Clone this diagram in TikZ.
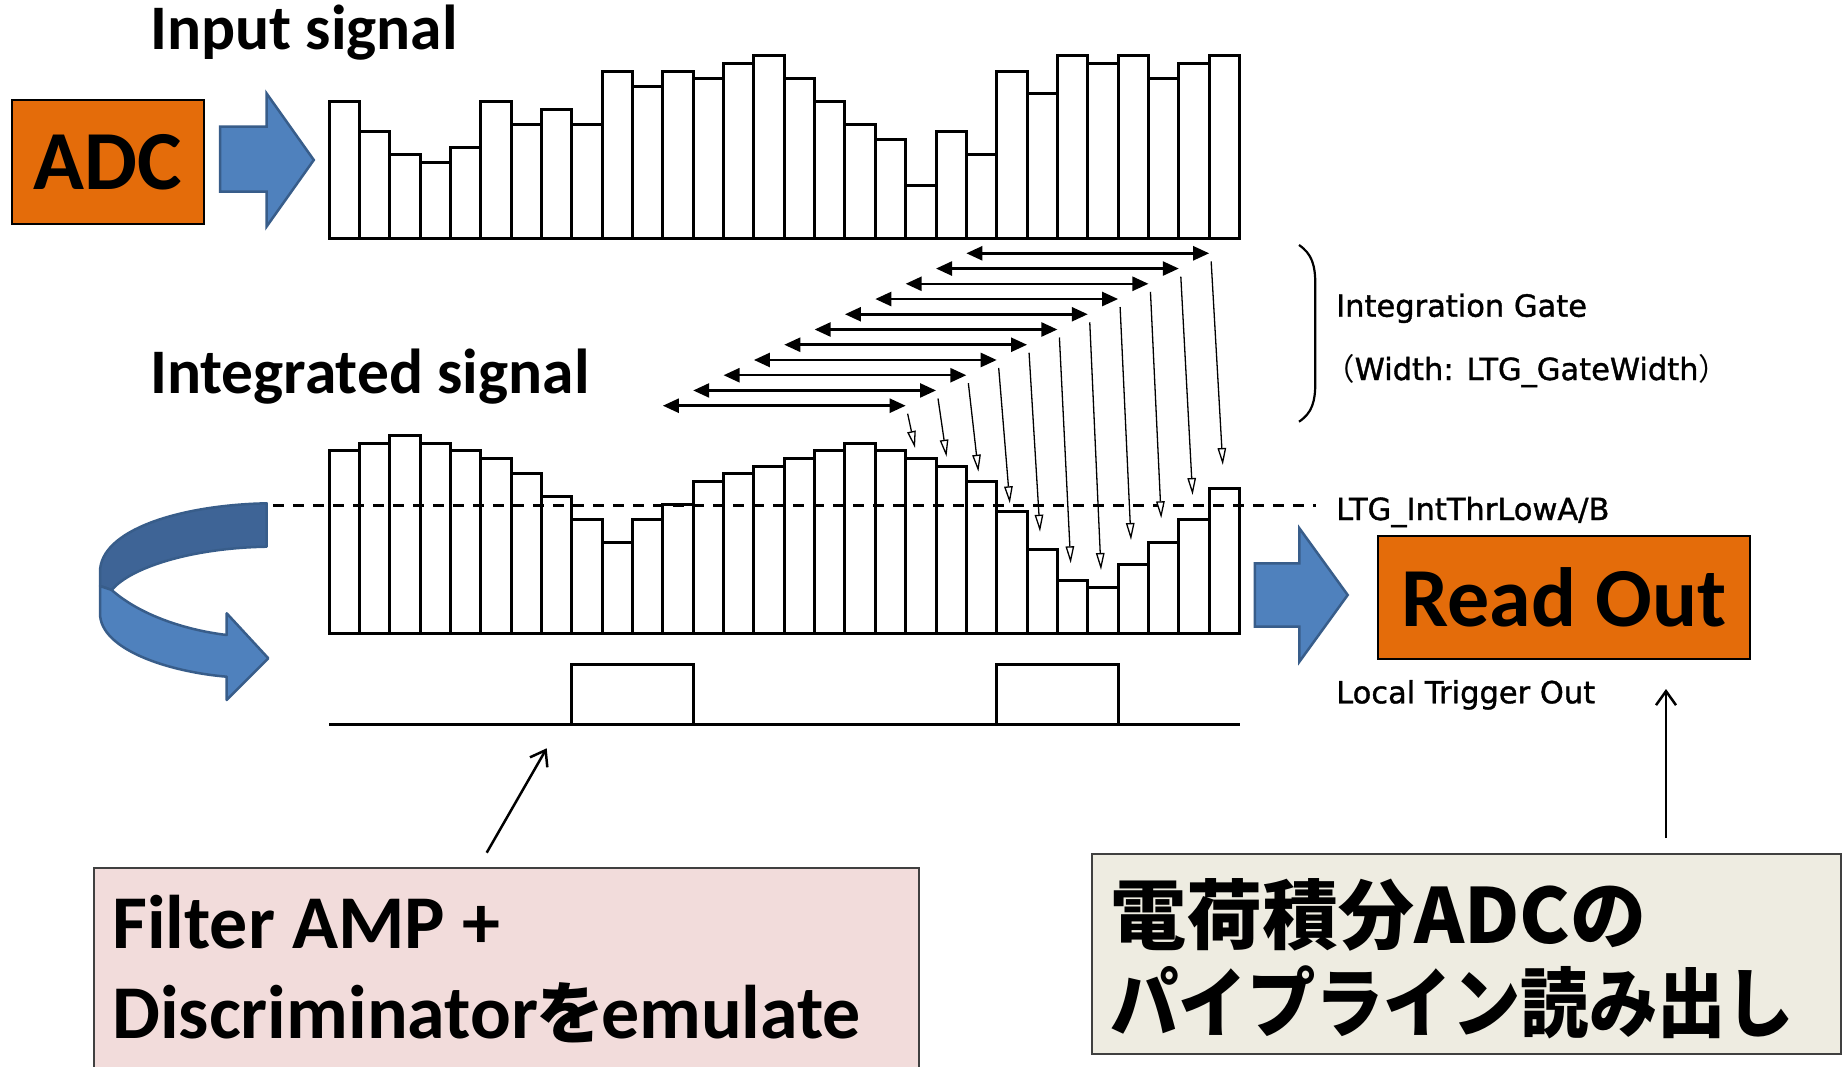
\documentclass[tikz,border=0pt]{standalone}
\usepackage{fontspec}
\setmainfont{Carlito}
\newfontfamily\cjk{Noto Sans CJK JP}
\newfontfamily\cjkn{Noto Sans CJK JP}[FakeStretch=0.9]
\newfontfamily\lab{DejaVu Sans}[FakeBold=1.2]
\usetikzlibrary{arrows.meta}
\definecolor{orng}{HTML}{E46C0A}
\definecolor{bluef}{HTML}{4F81BD}
\definecolor{blued}{HTML}{385D8A}
\definecolor{bluebk}{HTML}{3E6496}
\definecolor{pinkf}{HTML}{F2DCDB}
\definecolor{beigef}{HTML}{EEECE1}
\begin{document}
\begin{tikzpicture}[x=1pt,y=-1pt,
  barbox/.style={draw=black,fill=white,line width=3pt},
  bigtitle/.style={inner sep=0pt,font=\fontsize{63.5}{75}\selectfont\bfseries},
  orbox/.style={draw=black,fill=orng,line width=2pt,inner sep=0pt},
  blockarrow/.style={fill=bluef,draw=blued,line width=2.5pt,line join=miter},
  gatearrow/.style={line width=2.5pt,{Triangle[length=16pt,width=14pt]}-{Triangle[length=16pt,width=14pt]}},
  droparrow/.style={line width=1.3pt,-{Triangle[length=17pt,width=8.5pt,fill=white]}},
  lbl/.style={inner sep=0pt,font=\lab\fontsize{30.5}{36}\selectfont},
  ptr/.style={line width=2.5pt,-{Straight Barb[length=14pt,width=20pt]}},
  cjktext/.style={inner sep=0pt,font=\cjkn\bfseries\fontsize{76}{90}\selectfont},
  cjktextw/.style={inner sep=0pt,font=\cjk\bfseries\fontsize{76}{90}\selectfont},
  boxtext/.style={inner sep=0pt,font=\fontsize{76}{90}\selectfont\bfseries}
]
\useasboundingbox (0,0) rectangle (1846,1067);
\fill[white] (0,0) rectangle (1846,1067);

% titles
\node[bigtitle,anchor=base west] (intitle) at (150,49.3) {Input signal};
\node[bigtitle,anchor=base west] (integtitle) at (150,393.3) {Integrated signal};

% ADC box and Read Out box
\node[orbox,anchor=north west,minimum width=192pt,minimum height=123.4pt] (adc) at (11,99.3) {\fontsize{84}{100}\selectfont\bfseries ADC};
\node[orbox,anchor=north west,minimum width=372.4pt,minimum height=123.3pt] (ro) at (1376.6,535) {\fontsize{84}{100}\selectfont\bfseries Read Out};

% block arrows
\filldraw[blockarrow] (220,126.7) -- (266.5,126.7) -- (266.5,93.3) -- (313.8,160) -- (266.5,226.7) -- (266.5,191.7) -- (220,191.7) -- cycle;
\filldraw[blockarrow] (1254.8,563.3) -- (1299.4,563.3) -- (1299.4,528.3) -- (1347.7,595) -- (1299.4,661.7) -- (1299.4,626.7) -- (1254.8,626.7) -- cycle;

% top histogram
\foreach \L [count=\i] in {18,14,11,10,12,18,15,17,15,22,20,22,21,23,24,21,18,15,13,7,14,11,22,19,24,23,24,21,23,24} {
  \draw[barbox] ({329+(\i-1)*30.35},238.3) rectangle ({329+\i*30.35},{238.3-\L*7.596});
}
% bottom histogram
\foreach \L [count=\i] in {24,25,26,25,24,23,21,18,15,12,15,17,20,21,22,23,24,25,24,23,22,20,16,11,7,6,9,12,15,19} {
  \draw[barbox] ({329+(\i-1)*30.35},633.3) rectangle ({329+\i*30.35},{633.3-\L*7.6});
}

% threshold
\draw[line width=3pt,dash pattern=on 11pt off 9pt] (273,505.5) -- (1316,505.5);

% trigger output
\draw[line width=3pt] (329,724) -- (1239.5,724);
\draw[line width=3pt,line join=miter] (571.8,724) -- (571.8,664) -- (693.2,664) -- (693.2,724);
\draw[line width=3pt,line join=miter] (996.7,724) -- (996.7,664) -- (1118.1,664) -- (1118.1,724);

% integration gates and drop arrows
\foreach \k/\tx/\ty in {1/1222.8/465,2/1192.6/495,3/1161.2/518.3,4/1131/540,5/1101/570,6/1070.7/563.3,7/1040/531.7,8/1009.8/503.3,9/978.4/471.7,10/946.5/456.7,11/915/448} {
  \pgfmathsetmacro\yy{253.3+(\k-1)*15.24}
  \pgfmathsetmacro\xl{329+(22-\k)*30.35}
  \pgfmathsetmacro\xr{329+(30-\k)*30.35}
  \draw[gatearrow] (\xl,\yy) -- (\xr,\yy);
  \draw[droparrow] ({\xr+2},{\yy+8}) -- (\tx,\ty);
}

% bracket
\draw[line width=2.2pt] (1299,245) .. controls (1312,254) and (1315.3,265) .. (1315.3,285) -- (1315.3,382) .. controls (1315.3,402) and (1312,413) .. (1299,421.7);

% labels
\node[lbl,anchor=base west] (ig) at (1336,316.7) {Integration Gate};
\node[lbl,anchor=base west] (gw) at (1324,380) {{\cjk （}Width: LTG\_GateWidth{\cjk ）}};
\node[lbl,anchor=base west] (thr) at (1336,520) {LTG\_IntThrLowA/B};
\node[lbl,anchor=base west] (lto) at (1336,703.3) {Local Trigger Out};

% curved arrow
\filldraw[fill=bluebk,draw=blued,line width=2.5pt,line join=round] (266.7,503.3) .. controls (180,505) and (100,530) .. (100,572) -- (100,586) -- (111.7,590) .. controls (130,568) and (190,548) .. (266.7,546.7) -- cycle;
\filldraw[fill=bluef,draw=blued,line width=2.5pt,line join=round] (100,586) -- (111.7,590) .. controls (140,615) and (185,630) .. (226.7,635) -- (226.7,613.3) -- (268.3,658.3) -- (226.7,700) -- (226.7,676.7) .. controls (170,672) and (100,650) .. (100,613.3) -- cycle;

% bottom boxes
\begin{scope}
\clip (0,0) rectangle (1846,1067);
\node[draw=black!75,fill=pinkf,line width=2pt,inner sep=0pt,anchor=north west,minimum width=825.6pt,minimum height=230pt] (filt) at (92.7,867.3) {};
\end{scope}
\node[boxtext,anchor=base west] (ft1) at (112,948.3) {Filter AMP +};
\node[boxtext,anchor=base west] (ft2) at (112,1038.3) {Discriminator{\cjk\bfseries\fontsize{68}{80}\selectfont\kern-2pt を\kern-3pt}emulate};

\node[draw=black!75,fill=beigef,line width=2pt,inner sep=0pt,anchor=north west,minimum width=749.3pt,minimum height=200.6pt] (rbox) at (1090.7,852.7) {};
\node[cjktextw,anchor=base west] (rt1) at (1110,943) {電荷積分ADCの};
\node[cjktext,anchor=base west] (rt2) at (1110,1031.5) {パイプライン読み出し};

% pointer arrows
\coordinate (fa) at (486.7,852.7);
\coordinate (fb) at (546.7,748.3);
\draw[ptr] (fa) -- (fb);
\coordinate (ra) at (1666,838);
\coordinate (rb) at (1666,689);
\draw[ptr] (ra) -- (rb);
\end{tikzpicture}
\end{document}
